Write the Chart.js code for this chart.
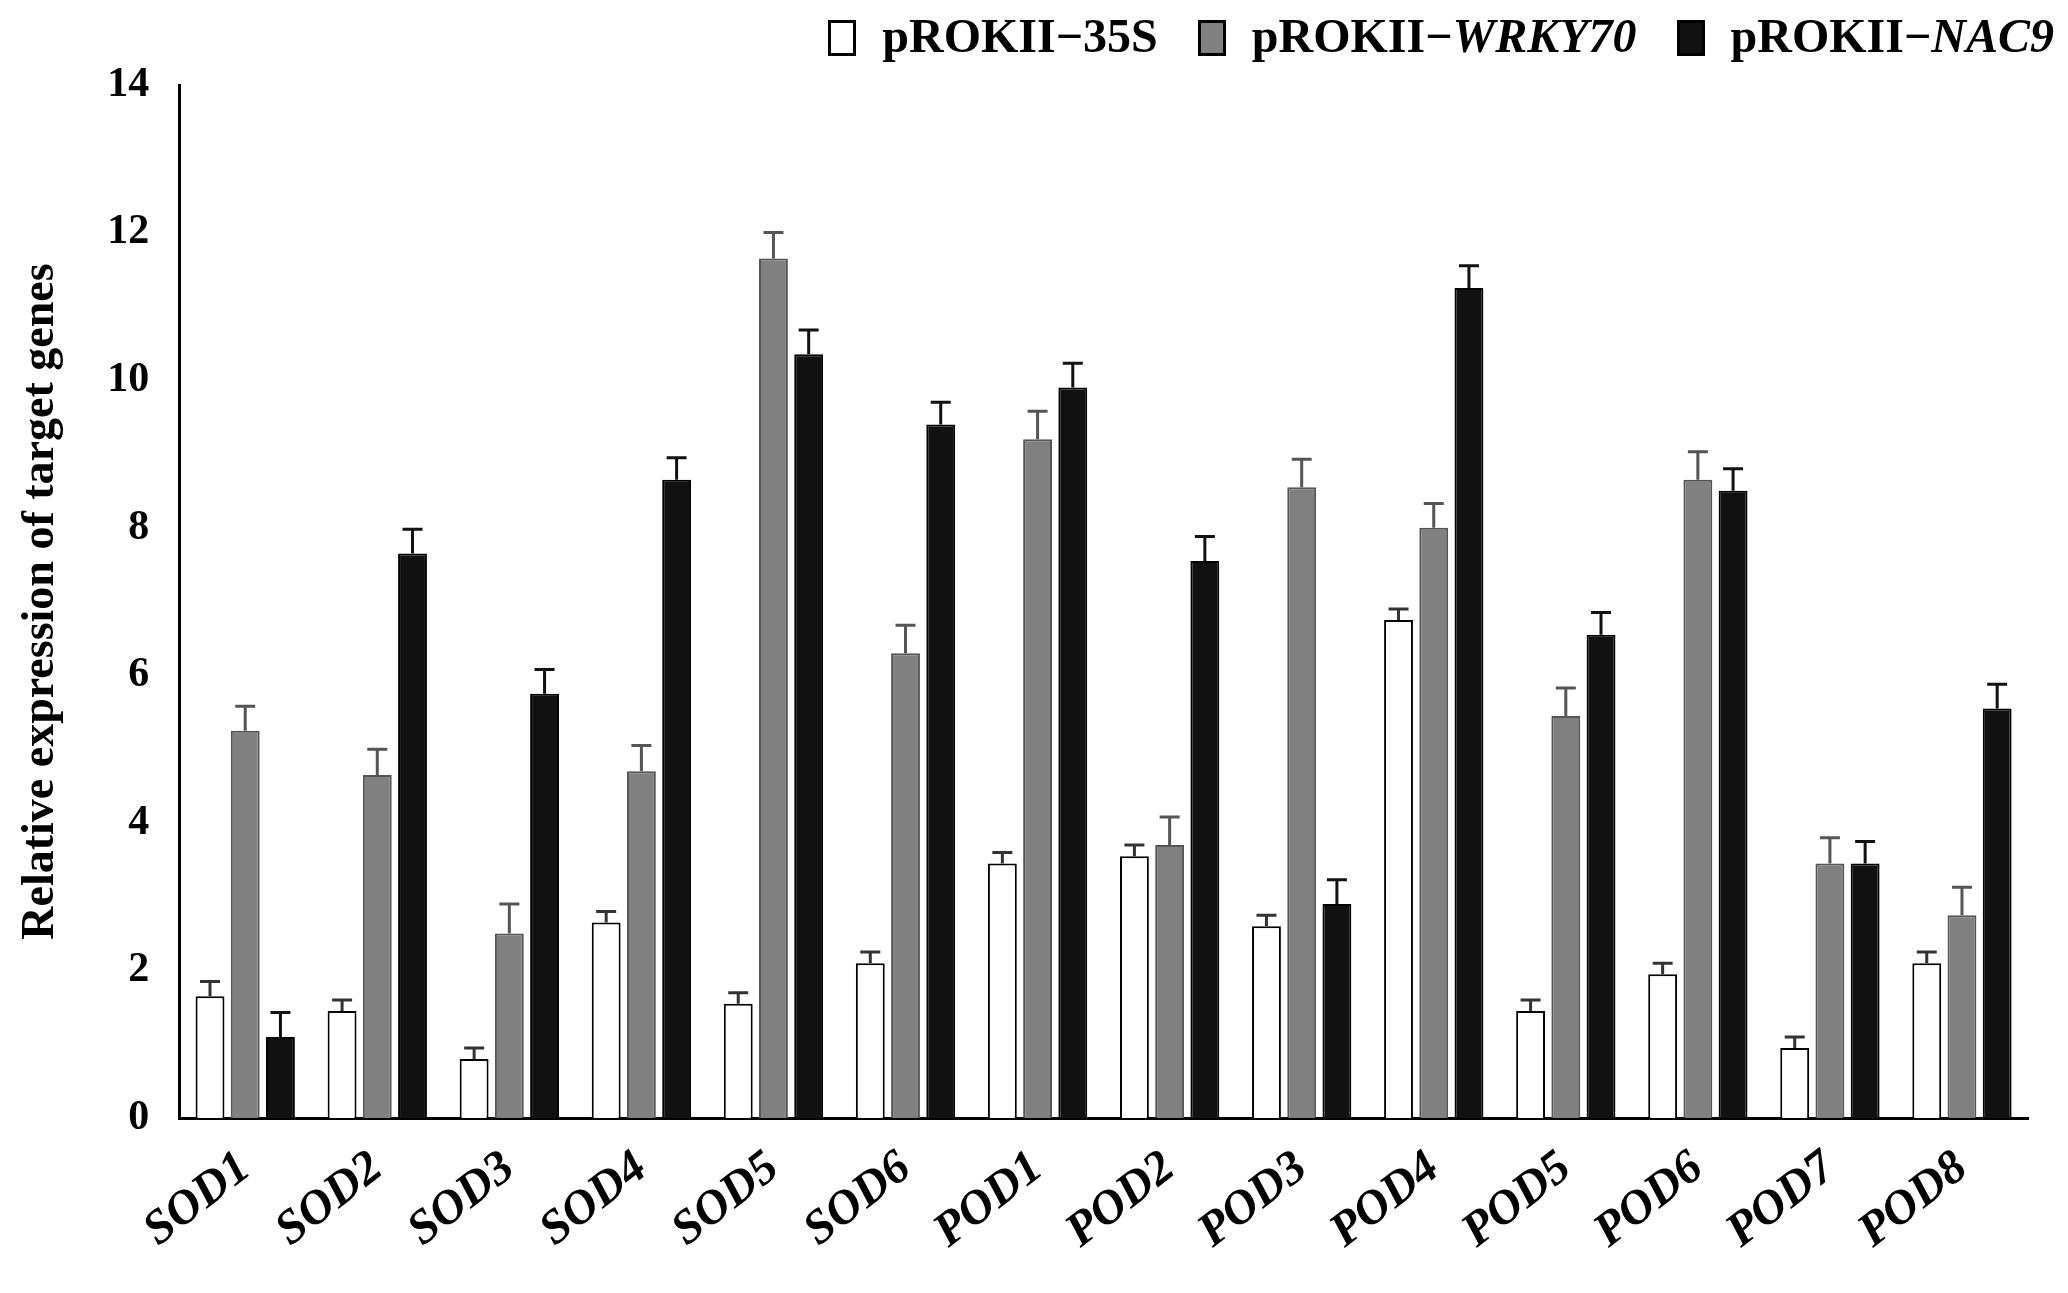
<!DOCTYPE html>
<html><head><meta charset="utf-8">
<script src="https://cdn.jsdelivr.net/npm/chart.js@4"></script>
<style>
html,body{margin:0;background:#fff;}
#wrap{position:relative;width:2068px;height:1293px;}
#legend{position:absolute;top:8px;right:14px;font:bold 48px "Liberation Serif";display:flex;gap:40px;align-items:center;}
#legend span.b{display:inline-block;width:28px;height:36px;border:3px solid #000;margin-right:26px;vertical-align:-4px;box-sizing:border-box;}
</style></head><body>
<div id="wrap"><canvas id="c" width="2068" height="1293"></canvas>
<div id="legend">
<div><span class="b" style="background:#fff"></span>pROKII−35S</div>
<div><span class="b" style="background:#808080"></span>pROKII−<i>WRKY70</i></div>
<div><span class="b" style="background:#111"></span>pROKII−<i>NAC9</i></div>
</div></div>
<script>
const genes = ['SOD1','SOD2','SOD3','SOD4','SOD5','SOD6','POD1','POD2','POD3','POD4','POD5','POD6','POD7','POD8'];
const v35S   = [1.65,1.45,0.8,2.65,1.55,2.1,3.45,3.55,2.6,6.75,1.45,1.95,0.95,2.1];
const e35S   = [0.2,0.15,0.15,0.15,0.15,0.15,0.15,0.15,0.15,0.15,0.15,0.15,0.15,0.15];
const vWRKY  = [5.25,4.65,2.5,4.7,11.65,6.3,9.2,3.7,8.55,8.0,5.45,8.65,3.45,2.75];
const eWRKY  = [0.33,0.35,0.4,0.35,0.35,0.38,0.38,0.38,0.38,0.33,0.38,0.38,0.35,0.38];
const vNAC   = [1.1,7.65,5.75,8.65,10.35,9.4,9.9,7.55,2.9,11.25,6.55,8.5,3.45,5.55];
const eNAC   = [0.33,0.33,0.33,0.3,0.33,0.3,0.33,0.33,0.33,0.3,0.3,0.3,0.3,0.33];
const yTicks = [0,2,4,6,8,10,12,14];

const errBars = {
  id:'errBars',
  afterDatasetsDraw(ch){
    const ctx = ch.ctx, y = ch.scales.y;
    ch.data.datasets.forEach((ds,i)=>{
      ch.getDatasetMeta(i).data.forEach((bar,j)=>{
        const top = y.getPixelForValue(ds.data[j]+ds.err[j]);
        ctx.save(); ctx.strokeStyle = ds.errColor; ctx.lineWidth = 3;
        ctx.beginPath();
        ctx.moveTo(bar.x, bar.y); ctx.lineTo(bar.x, top);
        ctx.moveTo(bar.x-10, top); ctx.lineTo(bar.x+10, top);
        ctx.stroke(); ctx.restore();
      });
    });
  }
};

const font = {family:'Liberation Serif', weight:'bold', size:42};
new Chart(document.getElementById('c'), {
  type:'bar',
  data:{labels:genes, datasets:[
    {data:v35S, err:e35S, errColor:'#333', backgroundColor:'#fff', borderColor:'#000', borderWidth:2},
    {data:vWRKY, err:eWRKY, errColor:'#555', backgroundColor:'#808080', borderColor:'#555', borderWidth:2},
    {data:vNAC, err:eNAC, errColor:'#111', backgroundColor:'#111', borderColor:'#000', borderWidth:2}
  ]},
  options:{
    responsive:false, animation:false,
    datasets:{bar:{categoryPercentage:0.8, barPercentage:0.82}},
    layout:{padding:{top:85, right:40, left:10, bottom:10}},
    plugins:{legend:{display:false}, tooltip:{enabled:false}},
    scales:{
      x:{grid:{display:false, drawTicks:false}, border:{color:'#000', width:3},
         ticks:{color:'#000', font:{...font, style:'italic', size:48}, maxRotation:38, minRotation:38, padding:22}},
      y:{min:0, max:14, afterBuildTicks:a=>{a.ticks = yTicks.map(v=>({value:v}));},
         grid:{display:false, drawOnChartArea:false, drawTicks:true, tickLength:12, tickWidth:3, tickColor:'#000'},
         border:{color:'#000', width:3},
         ticks:{color:'#000', font:font, padding:18},
         title:{display:true, text:'Relative expression of target genes', color:'#000', font:{...font, size:46}, padding:{bottom:20}}}
    }
  },
  plugins:[errBars]
});
</script></body></html>
